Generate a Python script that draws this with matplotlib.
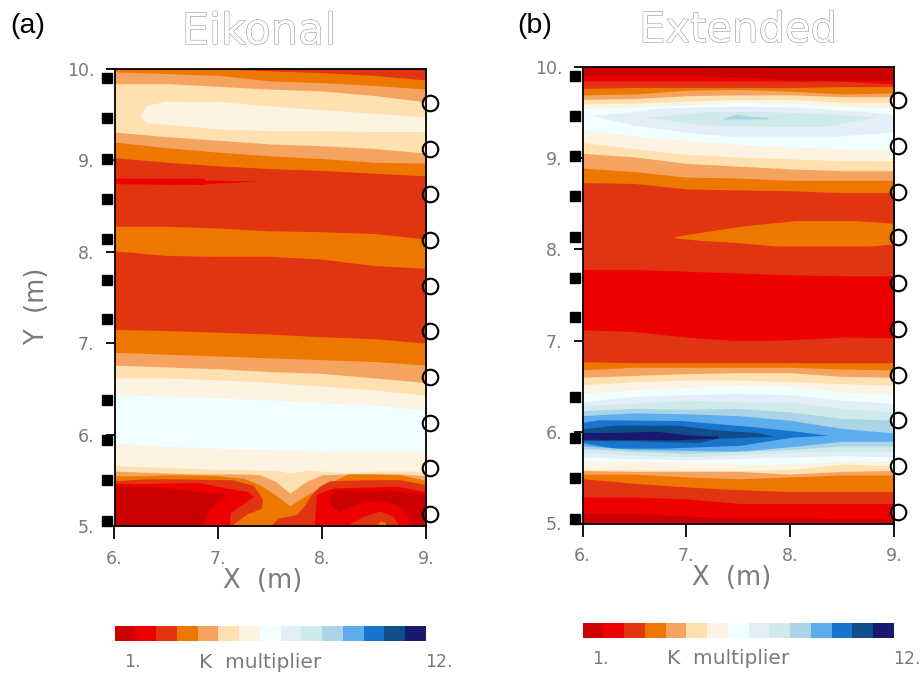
import numpy as np
import matplotlib
matplotlib.use('Agg')
import matplotlib.pyplot as plt
import matplotlib.patheffects as pe
from matplotlib.colors import ListedColormap

# class colours of the K multiplier scale
k_colors = ['#CC0000', '#EE0000', '#E03510', '#EE7700', '#F4A460', '#FFE0B0', '#FDF3E3', '#F0FFFF',
            '#E3EEF8', '#CFEAEA', '#ABD4E6', '#5CACEE', '#1874CD', '#104E8B', '#191970']

sensor_y = [9.90, 9.46, 9.02, 8.58, 8.14, 7.69, 7.26, 6.38, 5.94, 5.50, 5.05]
source_y = [9.63, 9.13, 8.63, 8.13, 7.63, 7.13, 6.63, 6.13, 5.63, 5.13]
x_ticks = [6, 7, 8, 9]
y_ticks = [5, 6, 7, 8, 9, 10]

x_coarse = [6, 6.5, 7, 7.5, 8, 8.5, 9]
x_fine_a = [6, 6.25, 6.5, 6.75, 7, 7.25, 7.4, 7.55, 7.69, 7.85, 8, 8.25, 8.5, 8.75, 9]

# panel a: (class, upper edge of the class), everything below is repainted by the next entry
bands_a_top = [
    (3, [10, 10, 10, 9.98, 9.96, 9.93, 9.88]),
    (4, [9.97, 9.95, 9.93, 9.87, 9.85, 9.82, 9.78]),
    (5, [9.84, 9.84, 9.81, 9.78, 9.76, 9.71, 9.64]),
    (4, [9.31, 9.26, 9.22, 9.18, 9.16, 9.13, 9.08]),
    (3, [9.20, 9.14, 9.09, 9.05, 9.02, 8.98, 8.97]),
    (2, [9.03, 8.98, 8.94, 8.91, 8.89, 8.86, 8.83]),
    (3, [8.28, 8.28, 8.26, 8.23, 8.22, 8.20, 8.14]),
    (2, [8.01, 7.96, 7.95, 7.95, 7.92, 7.85, 7.82]),
    (3, [7.15, 7.14, 7.12, 7.10, 7.07, 7.05, 7.00]),
    (4, [6.90, 6.88, 6.86, 6.84, 6.82, 6.80, 6.76]),
    (5, [6.76, 6.74, 6.72, 6.69, 6.67, 6.62, 6.57]),
    (6, [6.62, 6.62, 6.60, 6.57, 6.53, 6.49, 6.43]),
    (7, [6.44, 6.42, 6.40, 6.38, 6.35, 6.32, 6.27]),
    (6, [5.91, 5.87, 5.85, 5.84, 5.82, 5.82, 5.82]),
]
bands_a_low = [
    (5, [5.66, 5.65, 5.64, 5.63, 5.62, 5.62, 5.61, 5.61, 5.58, 5.61, 5.60, 5.58, 5.60, 5.60, 5.60]),
    (4, [5.60, 5.59, 5.58, 5.57, 5.57, 5.57, 5.56, 5.49, 5.36, 5.49, 5.56, 5.57, 5.57, 5.57, 5.55]),
    (3, [5.55, 5.55, 5.56, 5.56, 5.55, 5.52, 5.45, 5.34, 5.22, 5.34, 5.43, 5.57, 5.57, 5.56, 5.50]),
]
# closed patches of panel a: (class, x, y)
patches_a = [
    (6, [6.25, 6.31, 6.5, 7, 7.5, 8, 8.5, 9, 9, 8.5, 8, 7.5, 7, 6.5, 6.31],
        [9.47, 9.60, 9.64, 9.64, 9.59, 9.55, 9.51, 9.47, 9.31, 9.31, 9.32, 9.32, 9.34, 9.39, 9.41]),
    (1, [6, 6.87, 6.87, 7.39, 6.87, 6.87, 6],
        [8.80, 8.80, 8.78, 8.77, 8.74, 8.73, 8.74]),
    (2, [6, 6.31, 6.69, 7.14, 7.34, 7.43, 7.42, 7.27, 7.13, 6],
        [5.49, 5.51, 5.51, 5.50, 5.44, 5.29, 5.19, 5.12, 5.0, 5.0]),
    (1, [6, 6.31, 6.82, 7.08, 7.29, 7.34, 7.26, 7.12, 7.11, 6],
        [5.46, 5.46, 5.47, 5.41, 5.37, 5.32, 5.25, 5.14, 5.0, 5.0]),
    (0, [6, 6.31, 6.69, 6.98, 7.11, 6.98, 6.90, 6.86, 6],
        [5.43, 5.43, 5.39, 5.35, 5.34, 5.25, 5.14, 5.0, 5.0]),
    (2, [7.51, 7.58, 7.76, 7.84, 7.90, 7.98, 8.08, 8.43, 8.75, 9, 9],
        [5.0, 5.08, 5.12, 5.23, 5.34, 5.43, 5.49, 5.50, 5.50, 5.45, 5.0]),
    (1, [7.93, 7.95, 8.11, 8.72, 9, 9],
        [5.0, 5.34, 5.41, 5.43, 5.37, 5.0]),
    (0, [8.06, 8.14, 8.72, 9, 9, 8.84, 8.83, 8.72, 8.56, 8.37, 8.16, 8.08],
        [5.32, 5.39, 5.38, 5.34, 5.0, 5.0, 5.12, 5.23, 5.27, 5.25, 5.15, 5.23]),
    (2, [8.24, 8.40, 8.56, 8.69, 8.74],
        [5.0, 5.10, 5.16, 5.10, 5.0]),
    (3, [8.53, 8.56, 8.61, 8.62],
        [5.0, 5.05, 5.04, 5.0]),
]

# panel b, same idea; the patches in b_mid sit between the two band lists
bands_b_top = [
    (1, [9.90, 9.90, 9.90, 9.89, 9.85, 9.85, 9.85]),
    (2, [9.84, 9.84, 9.84, 9.84, 9.84, 9.84, 9.81]),
    (3, [9.76, 9.77, 9.77, 9.77, 9.77, 9.78, 9.78]),
    (4, [9.69, 9.70, 9.74, 9.75, 9.73, 9.70, 9.71]),
    (5, [9.64, 9.65, 9.68, 9.69, 9.69, 9.67, 9.67]),
    (6, [9.59, 9.60, 9.62, 9.64, 9.64, 9.61, 9.61]),
    (7, [9.54, 9.56, 9.58, 9.61, 9.60, 9.56, 9.55]),
    (6, [9.31, 9.24, 9.19, 9.15, 9.12, 9.10, 9.09]),
    (5, [9.17, 9.10, 9.04, 9.01, 8.99, 8.97, 8.97]),
    (4, [9.05, 9.01, 8.94, 8.91, 8.88, 8.86, 8.86]),
    (3, [8.89, 8.85, 8.79, 8.78, 8.755, 8.755, 8.755]),
    (2, [8.73, 8.72, 8.66, 8.65, 8.64, 8.62, 8.62]),
    (1, [7.78, 7.78, 7.76, 7.74, 7.72, 7.71, 7.71]),
    (2, [7.12, 7.10, 7.04, 7.00, 7.01, 7.04, 7.03]),
    (3, [6.77, 6.76, 6.76, 6.76, 6.76, 6.76, 6.76]),
    (4, [6.68, 6.71, 6.71, 6.71, 6.71, 6.69, 6.68]),
    (5, [6.60, 6.62, 6.64, 6.65, 6.65, 6.61, 6.60]),
    (6, [6.52, 6.55, 6.57, 6.57, 6.55, 6.53, 6.515]),
    (7, [6.43, 6.46, 6.49, 6.515, 6.50, 6.44, 6.41]),
    (8, [6.33, 6.39, 6.41, 6.42, 6.41, 6.35, 6.315]),
    (9, [6.29, 6.315, 6.35, 6.33, 6.33, 6.26, 6.22]),
    (10, [6.235, 6.26, 6.25, 6.26, 6.22, 6.15, 6.13]),
    (11, [6.18, 6.21, 6.20, 6.18, 6.13, 6.04, 5.99]),
]
patches_b_top = [
    (3, [6.89, 7.20, 7.55, 8.06, 8.61, 9, 9, 8.79, 7.87, 7.48, 7.16, 6.89],
        [8.135, 8.19, 8.25, 8.31, 8.31, 8.28, 8.055, 8.03, 8.03, 8.07, 8.09, 8.12]),
    (8, [6.07, 6.33, 6.75, 7.50, 8.06, 8.74, 9, 9, 8.42, 7.45, 6.97, 6.49],
        [9.465, 9.48, 9.54, 9.56, 9.55, 9.50, 9.465, 9.28, 9.23, 9.23, 9.28, 9.355]),
    (9, [6.63, 7.19, 7.77, 8.32, 8.83, 8.32, 7.77, 7.19],
        [9.44, 9.50, 9.50, 9.48, 9.44, 9.34, 9.34, 9.355]),
    (10, [7.36, 7.50, 7.60, 7.79, 7.79, 7.36],
         [9.43, 9.475, 9.45, 9.44, 9.42, 9.42]),
]
patches_b_mid = [
    (12, [6, 6.17, 6.97, 7.68, 8.09, 8.37, 8.03, 7.52, 6.81, 6.31, 6],
         [6.10, 6.13, 6.12, 6.05, 6.00, 5.96, 5.94, 5.85, 5.82, 5.82, 5.88]),
    (13, [6, 6.30, 6.91, 7.29, 7.68, 7.84, 7.29, 7.13, 6.49, 6],
         [6.03, 6.07, 6.07, 6.02, 5.99, 5.95, 5.925, 5.88, 5.90, 5.90]),
    (14, [6, 6.26, 6.71, 7.05, 7.31, 7.31, 6.91, 6],
         [5.99, 5.99, 6.005, 5.96, 5.95, 5.93, 5.91, 5.915]),
]
bands_b_low = [
    (10, [5.85, 5.81, 5.80, 5.79, 5.84, 5.90, 5.90]),
    (9, [5.82, 5.79, 5.77, 5.79, 5.81, 5.85, 5.85]),
    (8, [5.78, 5.75, 5.73, 5.75, 5.78, 5.79, 5.79]),
    (7, [5.73, 5.71, 5.70, 5.71, 5.73, 5.74, 5.73]),
    (6, [5.68, 5.68, 5.67, 5.65, 5.65, 5.68, 5.685]),
    (5, [5.59, 5.59, 5.58, 5.58, 5.59, 5.65, 5.63]),
    (4, [5.58, 5.57, 5.57, 5.57, 5.54, 5.57, 5.58]),
    (3, [5.54, 5.54, 5.51, 5.49, 5.51, 5.53, 5.53]),
    (2, [5.49, 5.44, 5.40, 5.37, 5.35, 5.35, 5.35]),
    (1, [5.29, 5.29, 5.27, 5.22, 5.22, 5.22, 5.22]),
    (0, [5.11, 5.11, 5.08, 5.07, 5.07, 5.05, 5.05]),
]

W, H = 922, 673
gray = '#7a7a7a'
grads = 'DejaVu Sans'


def px_axes(fig, left, right, top, bottom):
    return fig.add_axes([left / W, 1 - bottom / H, (right - left) / W, (bottom - top) / H])


def px_text(fig, x, y, s, **kw):
    kw.setdefault('family', grads)
    kw.setdefault('color', gray)
    fig.text(x / W, 1 - y / H, s, ha='center', va='center', **kw)


def draw_bands(ax, x, bands):
    for c, edge in bands:
        ax.fill_between(x, edge, 5, color=k_colors[c], lw=0, antialiased=False, zorder=1)


def draw_patches(ax, patches):
    for c, px, py in patches:
        ax.fill(px, py, color=k_colors[c], lw=0, zorder=1)


def dress_panel(ax):
    ax.set_xlim(6, 9)
    ax.set_ylim(5, 10)
    ax.set_xticks(x_ticks, [f'{t}.' for t in x_ticks])
    ax.set_yticks(y_ticks, [f'{t}.' for t in y_ticks])
    ax.tick_params(axis='x', length=9, width=1.3, pad=8, labelsize=12.5, labelcolor=gray)
    ax.tick_params(axis='y', length=6.5, width=1.3, pad=8, labelsize=12.5, labelcolor=gray)
    for s in ax.spines.values():
        s.set_linewidth(1.3)
        s.set_zorder(3)
    ax.plot([5.93] * len(sensor_y), sensor_y, 's', color='k', ms=7.5, clip_on=False, zorder=4)
    ax.plot([9.035] * len(source_y), source_y, 'o', mfc='none', mec='k', mew=1.5, ms=11.2,
            clip_on=False, zorder=4)


def colorbar(fig, left, right, top, bottom):
    cax = px_axes(fig, left, right, top, bottom)
    cax.pcolormesh(np.arange(len(k_colors) + 1), [0, 1], [np.arange(len(k_colors))],
                   cmap=ListedColormap(k_colors), vmin=0, vmax=len(k_colors) - 1)
    cax.axis('off')


fig = plt.figure(figsize=(W / 100, H / 100), dpi=100)
hollow = [pe.withStroke(linewidth=0.7, foreground='#8a8a8a')]

# panel a
ax1 = px_axes(fig, 114.5, 426, 69, 526)
ax1.set_facecolor(k_colors[2])
draw_bands(ax1, x_coarse, bands_a_top)
draw_bands(ax1, x_fine_a, bands_a_low)
draw_patches(ax1, patches_a)
dress_panel(ax1)
colorbar(fig, 114.5, 426, 626, 641)

# panel b
ax2 = px_axes(fig, 582.5, 894, 66.5, 523.5)
ax2.set_facecolor(k_colors[0])
draw_bands(ax2, x_coarse, bands_b_top)
draw_patches(ax2, patches_b_top)
draw_patches(ax2, patches_b_mid)
draw_bands(ax2, x_coarse, bands_b_low)
dress_panel(ax2)
colorbar(fig, 582.5, 894, 623, 638)

# titles and labels
px_text(fig, 259, 32, 'Eikonal', fontsize=31, color='white', path_effects=hollow)
px_text(fig, 738, 30, 'Extended', fontsize=30, color='white', path_effects=hollow)
px_text(fig, 28, 26, '(a)', family='Liberation Sans', fontsize=20.5, color='k')
px_text(fig, 535, 26, '(b)', family='Liberation Sans', fontsize=20.5, color='k')
px_text(fig, 263, 581, 'X  (m)', fontsize=18.5)
px_text(fig, 732, 578, 'X  (m)', fontsize=18.5)
px_text(fig, 37, 306, 'Y  (m)', fontsize=18.5, rotation=90)

px_text(fig, 132, 662, '1.', fontsize=12.5)
px_text(fig, 260, 662, 'K  multiplier', fontsize=14.5)
px_text(fig, 439, 662, '12.', fontsize=12.5)
px_text(fig, 600, 659, '1.', fontsize=12.5)
px_text(fig, 728, 659, 'K  multiplier', fontsize=14.5)
px_text(fig, 907, 659, '12.', fontsize=12.5)

fig.savefig('out.png', dpi=100)
